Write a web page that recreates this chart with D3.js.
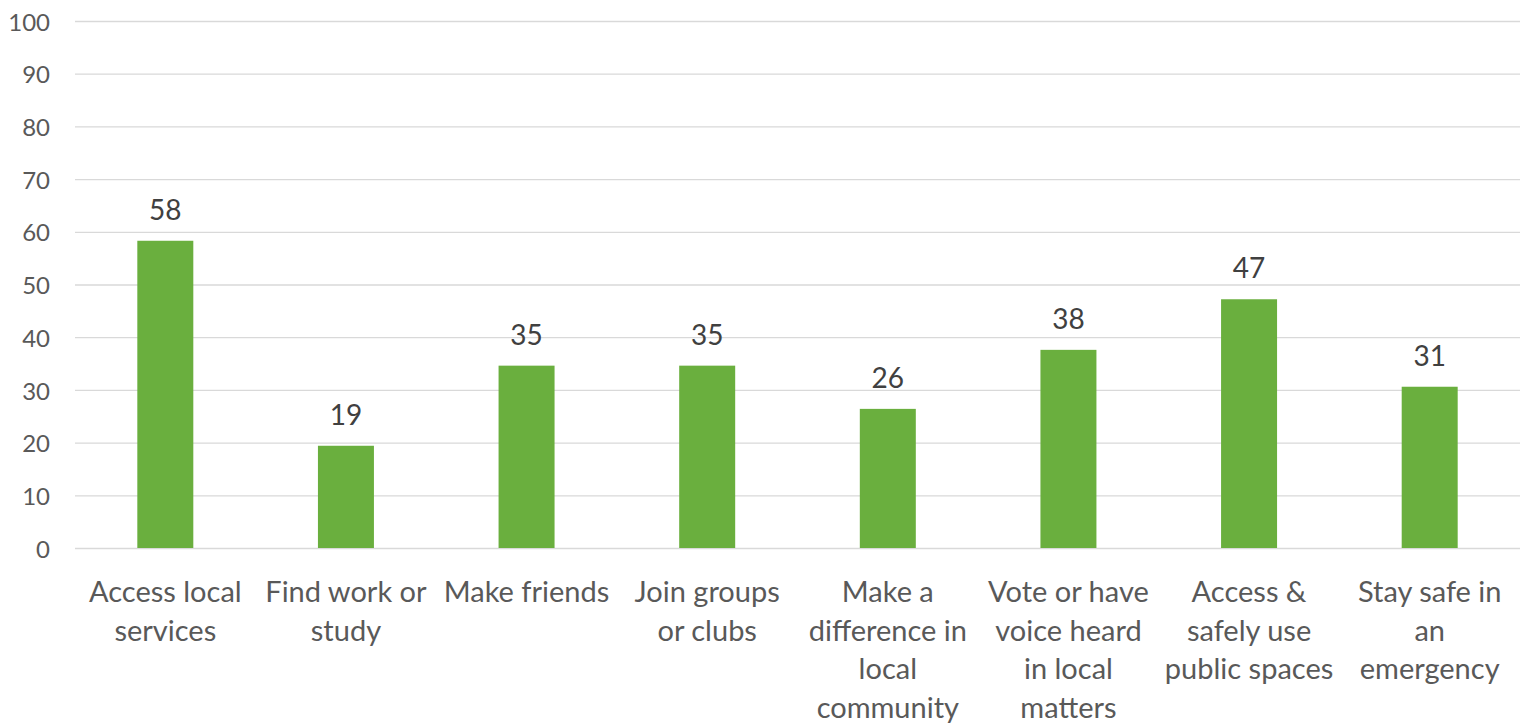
<!DOCTYPE html>
<html>
<head>
<meta charset="utf-8">
<script src="https://cdn.jsdelivr.net/npm/d3@7"></script>
<style>
  html, body { margin: 0; padding: 0; background: #fff; }
  svg { display: block; }
  svg text { font-family: Lato, "Open Sans", sans-serif; }
</style>
</head>
<body>
<svg id="chart" width="1531" height="727"></svg>
<script>
const categories = [
  "Access local\nservices",
  "Find work or\nstudy",
  "Make friends",
  "Join groups\nor clubs",
  "Make a\ndifference in\nlocal\ncommunity",
  "Vote or have\nvoice heard\nin local\nmatters",
  "Access &\nsafely use\npublic spaces",
  "Stay safe in\nan\nemergency"
];
const values = [58.3, 19.4, 34.6, 34.6, 26.4, 37.6, 47.2, 30.6];
const yTicks = [0, 10, 20, 30, 40, 50, 60, 70, 80, 90, 100];

const svg = d3.select("#chart");
const plotLeft = 75, plotRight = 1520, plotTop = 21, plotBottom = 548;

const x = d3.scaleBand().domain(categories).range([plotLeft, plotRight])
  .paddingInner(0.69).paddingOuter(0.345);
const y = d3.scaleLinear().domain([0, 100]).range([plotBottom, plotTop]);

// gridlines
const yAxis = d3.axisLeft(y).tickValues(yTicks).tickSize(-(plotRight - plotLeft)).tickPadding(25);
const gy = svg.append("g").attr("transform", `translate(${plotLeft},0)`).call(yAxis);
gy.select(".domain").remove();
gy.selectAll(".tick line").attr("stroke", "#d9d9d9").attr("stroke-width", 1.3);
gy.selectAll(".tick text").attr("fill", "#595959").style("font-size", "24px")
  .attr("dy", "0.38em");

// bars
svg.append("g").selectAll("rect").data(values).join("rect")
  .attr("x", (d, i) => x(categories[i]))
  .attr("width", x.bandwidth())
  .attr("y", d => y(d))
  .attr("height", d => y(0) - y(d))
  .attr("fill", "#6aaf3e");

// data labels
svg.append("g").selectAll("text").data(values).join("text")
  .attr("x", (d, i) => x(categories[i]) + x.bandwidth() / 2)
  .attr("y", d => y(d) - 21)
  .attr("text-anchor", "middle")
  .attr("fill", "#404040")
  .style("font-size", "28px")
  .text(d => d3.format(".0f")(d));

// category labels
const xAxis = d3.axisBottom(x).tickSize(0).tickFormat("");
const gx = svg.append("g").attr("transform", `translate(0,${plotBottom})`).call(xAxis);
gx.select(".domain").remove();
gx.selectAll(".tick").each(function(d) {
  const t = d3.select(this).append("text")
    .attr("text-anchor", "middle")
    .attr("fill", "#595959")
    .style("font-size", "29px");
  d.split("\n").forEach((line, j) => {
    t.append("tspan").attr("x", 0).attr("y", 54 + j * 38.5).text(line);
  });
});
</script>
</body>
</html>
